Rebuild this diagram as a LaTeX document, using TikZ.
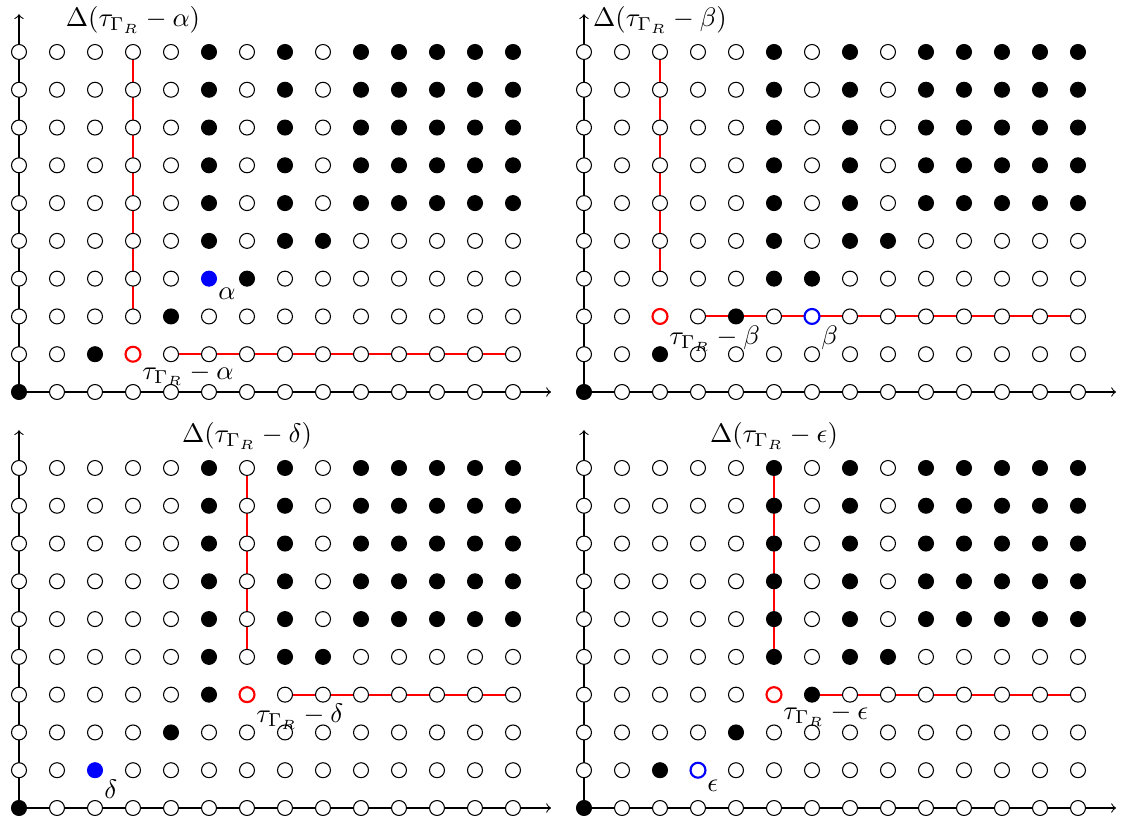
\documentclass[tikz,border=0pt]{standalone}
\usetikzlibrary{backgrounds}
\tikzset{
  pt/.style={circle, draw=black, fill=white, inner sep=0pt, minimum size=5.6pt},
  full/.style={pt, fill=black},
  redpt/.style={pt, draw=red, thick},
  bluefull/.style={pt, draw=blue, fill=blue},
  blueopen/.style={pt, draw=blue, thick},
  redline/.style={red, line width=0.75pt},
  axisline/.style={->},
  lbl/.style={below right},
}
% #1 name, #2 ox, #3 oy, #4 a, #5 b, #6 xi, #7 xj, #8 blue style, #9 symbol
\newcommand\drawpanel[9]{%
  \begin{scope}[shift={(#2,#3)}]
    \foreach \i in {0,...,13}{%
      \foreach \j in {0,...,9}{%
        \pgfmathtruncatemacro\inS{((\j==0 && \i==0) || (\j==1 && \i==2) || (\j==2 && \i==4) || (\j==3 && (\i==5 || \i==6)) || (\j==4 && (\i==5 || \i==7 || \i==8)) || (\j>4 && (\i==5 || \i==7 || \i>8))) ? 1 : 0}%
        \pgfmathtruncatemacro\kind{(\i==#4 && \j==#5) ? 2 : ((\i==#6 && \j==#7) ? 3 : \inS)}%
        \ifcase\kind \def\st{pt}\or \def\st{full}\or \def\st{redpt}\or \def\st{#8}\fi
        \node[\st] (#1-\i-\j) at (\i,\j) {};
      }%
    }%
    \coordinate (#1-ytip) at (0,10);
    \coordinate (#1-xtip) at (14,0);
    \node (#1-title) at (#4,9.85) {$\Delta(\tau_{\Gamma_R}-#9)$};
    \node[lbl] (#1-tlab) at (#1-#4-#5.center) {$\tau_{\Gamma_R}-#9$};
    \node[lbl] (#1-xlab) at (#1-#6-#7.center) {$#9$};
    \pgfmathtruncatemacro\ap{#4+1}%
    \pgfmathtruncatemacro\bp{#5+1}%
    \begin{scope}[on background layer]
      \draw[axisline] (#1-0-0.center) -- (#1-ytip);
      \draw[axisline] (#1-0-0.center) -- (#1-xtip);
      \draw[redline] (#1-#4-\bp.center) -- (#1-#4-9.center);
      \draw[redline] (#1-\ap-#5.center) -- (#1-13-#5.center);
    \end{scope}
  \end{scope}
}
\begin{document}
\begin{tikzpicture}[x=0.5cm, y=0.4971cm]
  \useasboundingbox (-0.5,-11.355) rectangle (29.026,10.376);
  \drawpanel{A}{0}{0}{3}{1}{5}{3}{bluefull}{\alpha}
  \drawpanel{B}{14.868}{0}{2}{2}{6}{2}{blueopen}{\beta}
  \drawpanel{C}{0}{-11.011}{6}{3}{2}{1}{bluefull}{\delta}
  \drawpanel{D}{14.868}{-11.011}{5}{3}{3}{1}{blueopen}{\epsilon}
\end{tikzpicture}
\end{document}
